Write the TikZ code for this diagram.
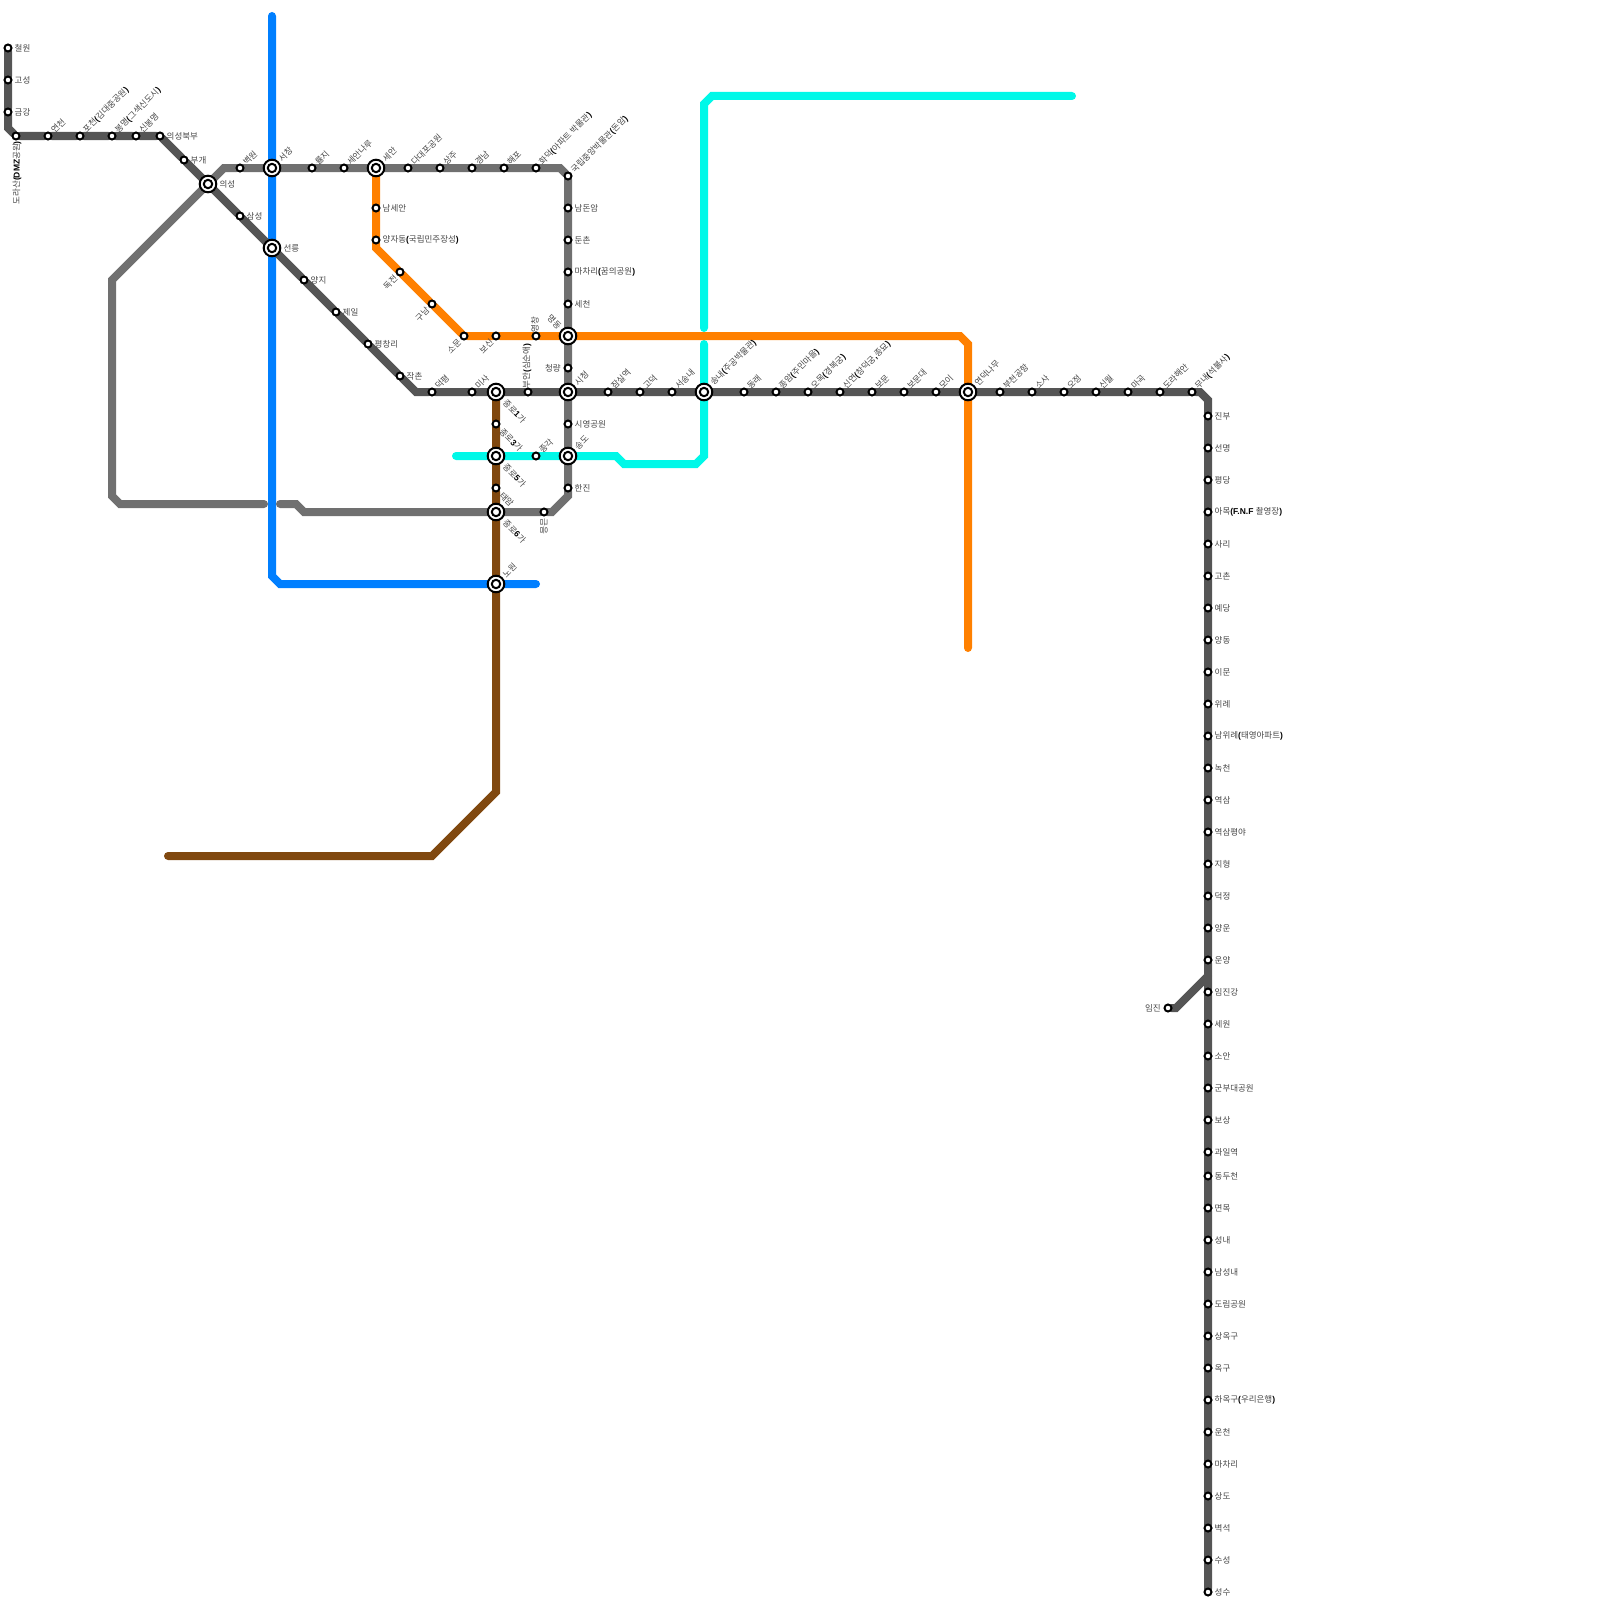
\documentclass[tikz,border=0pt]{standalone}
\usepackage{fontspec}
\setmainfont{Noto Sans CJK KR}
\newfontfamily\latfont{Liberation Sans}
\newcommand{\lat}[1]{{\latfont\bfseries\color{black}#1}}
\usepackage{xcolor}
\usepackage{tikz}
\usetikzlibrary{backgrounds}
\definecolor{darkcol}{HTML}{555555}
\definecolor{greycol}{HTML}{707070}
\definecolor{bluecol}{HTML}{007FFF}
\definecolor{orangecol}{HTML}{FF8000}
\definecolor{cyancol}{HTML}{00F8E8}
\definecolor{browncol}{HTML}{80480F}

\begin{document}
\begin{tikzpicture}[
        x=1pt, y=-1pt,
        label distance=3.5pt,
        st/.style={circle, draw=black, fill=white, line width=2pt,
                   minimum size=7pt, inner sep=0pt, outer sep=0pt},
        big/.style={circle, draw=black, fill=white, line width=2pt,
                    minimum size=16.6pt, inner sep=0pt, outer sep=0pt,
                    path picture={\draw[line width=2pt]
                      (path picture bounding box.center) circle (4.2pt);}},
        lab/.style={font=\fontsize{8.5}{9}\selectfont, text=black!72, inner sep=0pt},
        lr/.style={label={[lab, xshift=-0.5pt]0:#1}},
        ll/.style={label={[lab]180:#1}},
        lne/.style={label={[lab, rotate=45, anchor=west, xshift=0.4pt, yshift=-2.5pt]45:#1}},
        lse/.style={label={[lab, rotate=-45, anchor=west, xshift=1.8pt, yshift=1.8pt]-45:#1}},
        lsw/.style={label={[lab, rotate=45, anchor=east, xshift=-0.4pt, yshift=1.8pt]225:#1}},
        lnw/.style={label={[lab, rotate=-45, anchor=east, xshift=-0.7pt, yshift=-2.1pt]135:#1}},
        lup/.style={label={[lab, rotate=90, anchor=west, yshift=-2.5pt]90:#1}},
        ldn/.style={label={[lab, rotate=-90, anchor=west, xshift=3pt, yshift=3.5pt]-90:#1}},
        lbu/.style={label={[lab, rotate=90, anchor=east, xshift=-1.5pt, yshift=2.5pt]-90:#1}},
        ln/.style={line width=8pt, line cap=round, line join=miter},
      ]
        \useasboundingbox (0,0) rectangle (1600,1600);

        % ── Dark line, west part ──
        \node[st, lr=철원] (cheorwon) at (8,48) {};
        \node[st, lr=고성] (goseong)  at (8,80) {};
        \node[st, lr=금강] (geumgang) at (8,112) {};
        \node[st, lbu=도라산\lat{(DMZ}공원\lat{)}] (dorasan) at (16,136) {};
        \node[st, lne=연천] (yeoncheon) at (48,136) {};
        \node[st, lne=포천\lat{(}김대중공원\lat{)}] (pocheon) at (80,136) {};
        \node[st, lne=봉명\lat{(}그색신도시\lat{)}] (bongmyeong) at (112,136) {};
        \node[st, lne=신봉명] (sinbong) at (136,136) {};
        \node[st, lr=의성북부] (uibuk) at (160,136) {};
        \node[st, lr=부개] (bugae) at (184,160) {};
        \node[big, lr=의성] (uiseong) at (208,184) {};
        \node[st, lr=삼성] (samseong) at (240,216) {};
        \node[big, lr=선릉] (seolleung) at (272,248) {};
        \node[st, lr=양지] (yangji) at (304,280) {};
        \node[st, lr=제일] (jeil) at (336,312) {};
        \node[st, lr=평창리] (pyeongchang) at (368,344) {};
        \node[st, lr=작촌] (jakchon) at (400,376) {};
        \node[st, lne=덕평] (deokpyeong) at (432,392) {};
        \node[st, lne=미사] (misa) at (472,392) {};
        \node[big, lse=종로\lat{1}가] (jongro1) at (496,392) {};
        \node[st, lup=부안\lat{(}심순애\lat{)}] (buan) at (528,392) {};
        \node[big, lne=시청] (sicheong) at (568,392) {};
        \node[st, lne=잠실역] (jamsil) at (608,392) {};
        \node[st, lne=고덕] (godeok) at (640,392) {};
        \node[st, lne=서송내] (seosongnae) at (672,392) {};
        \node[big, lne=송내\lat{(}주공박물관\lat{)}] (songnae) at (704,392) {};
        \node[st, lne=동래] (dongnae) at (744,392) {};
        \node[st, lne=종암\lat{(}주민마을\lat{)}] (jongam) at (776,392) {};
        \node[st, lne=오목\lat{(}경복궁\lat{)}] (omok) at (808,392) {};
        \node[st, lne=신연\lat{(}창덕궁\lat{,}종묘\lat{)}] (sinyeon) at (840,392) {};
        \node[st, lne=보문] (bomun) at (872,392) {};
        \node[st, lne=보문대] (bomundae) at (904,392) {};
        \node[st, lne=모이] (moi) at (936,392) {};
        \node[big, lne=연덕나무] (yeondeok) at (968,392) {};
        \node[st, lne=부천공항] (bucheon) at (1000,392) {};
        \node[st, lne=소사] (sosa) at (1032,392) {};
        \node[st, lne=오정] (ojeong) at (1064,392) {};
        \node[st, lne=신월] (sinwol) at (1096,392) {};
        \node[st, lne=마곡] (magok) at (1128,392) {};
        \node[st, lne=도라해안] (dorahaean) at (1160,392) {};
        \node[st, lne=무내\lat{(}석불사\lat{)}] (munae) at (1192,392) {};

        % ── Dark line, south part ──
        \node[st, lr=진부] (jinbu) at (1208,416) {};
        \node[st, lr=선명] (seonmyeong) at (1208,448) {};
        \node[st, lr=평당] (pyeongdang) at (1208,480) {};
        \node[st, lr=아목\lat{(F.N.F }촬영장\lat{)}] (amok) at (1208,512) {};
        \node[st, lr=사리] (sari) at (1208,544) {};
        \node[st, lr=고촌] (gochon) at (1208,576) {};
        \node[st, lr=예당] (yedang) at (1208,608) {};
        \node[st, lr=양동] (yangdong) at (1208,640) {};
        \node[st, lr=이문] (imun) at (1208,672) {};
        \node[st, lr=위례] (wirye) at (1208,704) {};
        \node[st, lr=남위례\lat{(}태영아파트\lat{)}] (namwirye) at (1208,736) {};
        \node[st, lr=녹천] (nokcheon) at (1208,768) {};
        \node[st, lr=역삼] (yeoksam) at (1208,800) {};
        \node[st, lr=역삼평야] (pyeongya) at (1208,832) {};
        \node[st, lr=지형] (jihyeong) at (1208,864) {};
        \node[st, lr=덕정] (deokjeong) at (1208,896) {};
        \node[st, lr=양운] (yangun) at (1208,928) {};
        \node[st, lr=운양] (unyang) at (1208,960) {};
        \node[st, lr=임진강] (imjingang) at (1208,992) {};
        \node[st, lr=세원] (sewon) at (1208,1024) {};
        \node[st, lr=소안] (soan) at (1208,1056) {};
        \node[st, lr=군부대공원] (gunbudae) at (1208,1088) {};
        \node[st, lr=보상] (bosang) at (1208,1120) {};
        \node[st, lr=과일역] (gwail) at (1208,1152) {};
        \node[st, lr=동두천] (dongducheon) at (1208,1176) {};
        \node[st, lr=면목] (myeonmok) at (1208,1208) {};
        \node[st, lr=성내] (seongnae) at (1208,1240) {};
        \node[st, lr=남성내] (namseongnae) at (1208,1272) {};
        \node[st, lr=도림공원] (dorim) at (1208,1304) {};
        \node[st, lr=상옥구] (sangokgu) at (1208,1336) {};
        \node[st, lr=옥구] (okgu) at (1208,1368) {};
        \node[st, lr=하옥구\lat{(}우리은행\lat{)}] (haokgu) at (1208,1400) {};
        \node[st, lr=운천] (uncheon) at (1208,1432) {};
        \node[st, lr=마차리] (machari) at (1208,1464) {};
        \node[st, lr=상도] (sangdo) at (1208,1496) {};
        \node[st, lr=벽석] (byeokseok) at (1208,1528) {};
        \node[st, lr=수성] (suseong) at (1208,1560) {};
        \node[st, lr=성수] (seongsu) at (1208,1592) {};
        \node[st, ll=임진] (imjin) at (1168,1008) {};

        % ── Grey loop ──
        \node[st, lne=벽원] (byeokwon) at (240,168) {};
        \node[big, lne=서창] (seochang) at (272,168) {};
        \node[st, lne=률지] (ryulji) at (312,168) {};
        \node[st, lne=세안나루] (seannaru) at (344,168) {};
        \node[big, lne=세안] (sean) at (376,168) {};
        \node[st, lne=다대포공원] (dadaepo) at (408,168) {};
        \node[st, lne=상주] (sangju) at (440,168) {};
        \node[st, lne=경남] (gyeongnam) at (472,168) {};
        \node[st, lne=해포] (haepo) at (504,168) {};
        \node[st, lne=화덕\lat{(}아파트 박물관\lat{)}] (hwadeok) at (536,168) {};
        \node[st, lne=국립중앙박물관\lat{(}돈암\lat{)}] (gungnip) at (568,176) {};
        \node[st, lr=남돈암] (namdonam) at (568,208) {};
        \node[st, lr=둔촌] (dunchon) at (568,240) {};
        \node[st, lr=마차리\lat{(}꿈의공원\lat{)}] (macharib) at (568,272) {};
        \node[st, lr=세천] (secheon) at (568,304) {};
        \node[big, lnw=명동] (myeongdong) at (568,336) {};
        \node[st, ll=청량] (cheongnyang) at (568,368) {};
        \node[st, lr=시영공원] (siyeong) at (568,424) {};
        \node[big, lne=송도] (songdo) at (568,456) {};
        \node[st, lr=한진] (hanjin) at (568,488) {};
        \node[st, ldn=금음] (geumeum) at (544,512) {};
        \node[big, lse=종로\lat{6}가] (jongro6) at (496,512) {};

        % ── Orange line ──
        \node[st, lr=남세안] (namsean) at (376,208) {};
        \node[st, lr=양자동\lat{(}국립민주장성\lat{)}] (yangjadong) at (376,240) {};
        \node[st, lsw=독전] (dokjeon) at (400,272) {};
        \node[st, lsw=구남] (gunam) at (432,304) {};
        \node[st, lsw=소문] (somun) at (464,336) {};
        \node[st, lsw=보신] (bosin) at (496,336) {};
        \node[st, lup=영창] (yeongchang) at (536,336) {};

        % ── Brown, cyan and blue lines ──
        \node[st, lse=종로\lat{3}가] (jongro3) at (496,424) {};
        \node[big, lse=종로\lat{5}가] (jongro5) at (496,456) {};
        \node[st, lse=태암] (taeam) at (496,488) {};
        \node[big, lne=노원] (nowon) at (496,584) {};
        \node[st, lne=종각] (jonggak) at (536,456) {};

        % ── Bends and free ends ──
        \coordinate (bdark1) at (8,128);
        \coordinate (bdark2) at (416,392);
        \coordinate (bdark3) at (1200,392);
        \coordinate (bdark4) at (1208,400);
        \coordinate (bimjin1) at (1176,1008);
        \coordinate (bimjin2) at (1208,976);
        \coordinate (bgrey1) at (224,168);
        \coordinate (bgrey2) at (560,168);
        \coordinate (bgrey3) at (568,496);
        \coordinate (bgrey4) at (552,512);
        \coordinate (bgrey5) at (304,512);
        \coordinate (bgrey6) at (296,504);
        \coordinate (egrey1) at (280,504);
        \coordinate (egrey2) at (264,504);
        \coordinate (bgrey7) at (120,504);
        \coordinate (bgrey8) at (112,496);
        \coordinate (bgrey9) at (112,280);
        \coordinate (eblue1) at (272,16);
        \coordinate (bblue1) at (272,576);
        \coordinate (bblue2) at (280,584);
        \coordinate (eblue2) at (536,584);
        \coordinate (borange1) at (376,248);
        \coordinate (borange2) at (960,336);
        \coordinate (borange3) at (968,344);
        \coordinate (eorange) at (968,648);
        \coordinate (bbrown1) at (496,792);
        \coordinate (bbrown2) at (432,856);
        \coordinate (ebrown) at (168,856);
        \coordinate (ecyan1) at (456,456);
        \coordinate (bcyan1) at (616,456);
        \coordinate (bcyan2) at (624,464);
        \coordinate (bcyan3) at (696,464);
        \coordinate (bcyan4) at (704,456);
        \coordinate (ecyan2) at (704,344);
        \coordinate (ecyan3) at (704,328);
        \coordinate (bcyan5) at (704,104);
        \coordinate (bcyan6) at (712,96);
        \coordinate (ecyan4) at (1072,96);

        \begin{scope}[on background layer]
        % ── Blue, brown, cyan, orange ──
        \draw[ln, bluecol] (eblue1)--(seochang)--(seolleung)--(bblue1)--(bblue2)--(nowon)--(eblue2);
        \draw[ln, browncol] (jongro1)--(jongro3)--(jongro5)--(taeam)--(jongro6)--(nowon)--(bbrown1)--(bbrown2)--(ebrown);
        \draw[ln, cyancol] (ecyan1)--(jongro5)--(jonggak)--(songdo)--(bcyan1)--(bcyan2)--(bcyan3)--(bcyan4)--(songnae)--(ecyan2);
        \draw[ln, cyancol] (ecyan3)--(bcyan5)--(bcyan6)--(ecyan4);
        \draw[ln, orangecol] (sean)--(namsean)--(yangjadong)--(borange1)--(dokjeon)--(gunam)--(somun)--(bosin)--(yeongchang)--(myeongdong)--(borange2)--(borange3)--(yeondeok)--(eorange);

        % ── Grey loop ──
        \draw[ln, greycol] (uiseong)--(bgrey1)--(byeokwon)--(seochang)--(ryulji)--(seannaru)--(sean)--(dadaepo)--(sangju)--(gyeongnam)--(haepo)--(hwadeok)--(bgrey2)--(gungnip)--(namdonam)--(dunchon)--(macharib)--(secheon)--(myeongdong)--(cheongnyang)--(sicheong)--(siyeong)--(songdo)--(hanjin)--(bgrey3)--(bgrey4)--(geumeum)--(jongro6)--(bgrey5)--(bgrey6)--(egrey1);
        \draw[ln, greycol] (egrey2)--(bgrey7)--(bgrey8)--(bgrey9)--(uiseong);

        % ── Dark line ──
        \draw[ln, darkcol] (cheorwon)--(goseong)--(geumgang)--(bdark1)--(dorasan)--(yeoncheon)--(pocheon)--(bongmyeong)--(sinbong)--(uibuk)--(bugae)--(uiseong)--(samseong)--(seolleung)--(yangji)--(jeil)--(pyeongchang)--(jakchon)--(bdark2)--(deokpyeong)--(misa)--(jongro1)--(buan)--(sicheong)--(jamsil)--(godeok)--(seosongnae)--(songnae)--(dongnae)--(jongam)--(omok)--(sinyeon)--(bomun)--(bomundae)--(moi)--(yeondeok)--(bucheon)--(sosa)--(ojeong)--(sinwol)--(magok)--(dorahaean)--(munae)--(bdark3)--(bdark4)--(jinbu)--(seonmyeong)--(pyeongdang)--(amok)--(sari)--(gochon)--(yedang)--(yangdong)--(imun)--(wirye)--(namwirye)--(nokcheon)--(yeoksam)--(pyeongya)--(jihyeong)--(deokjeong)--(yangun)--(unyang)--(imjingang)--(sewon)--(soan)--(gunbudae)--(bosang)--(gwail)--(dongducheon)--(myeonmok)--(seongnae)--(namseongnae)--(dorim)--(sangokgu)--(okgu)--(haokgu)--(uncheon)--(machari)--(sangdo)--(byeokseok)--(suseong)--(seongsu);
        \draw[ln, darkcol] (imjin)--(bimjin1)--(bimjin2);
        \end{scope}
      \end{tikzpicture}
\end{document}
